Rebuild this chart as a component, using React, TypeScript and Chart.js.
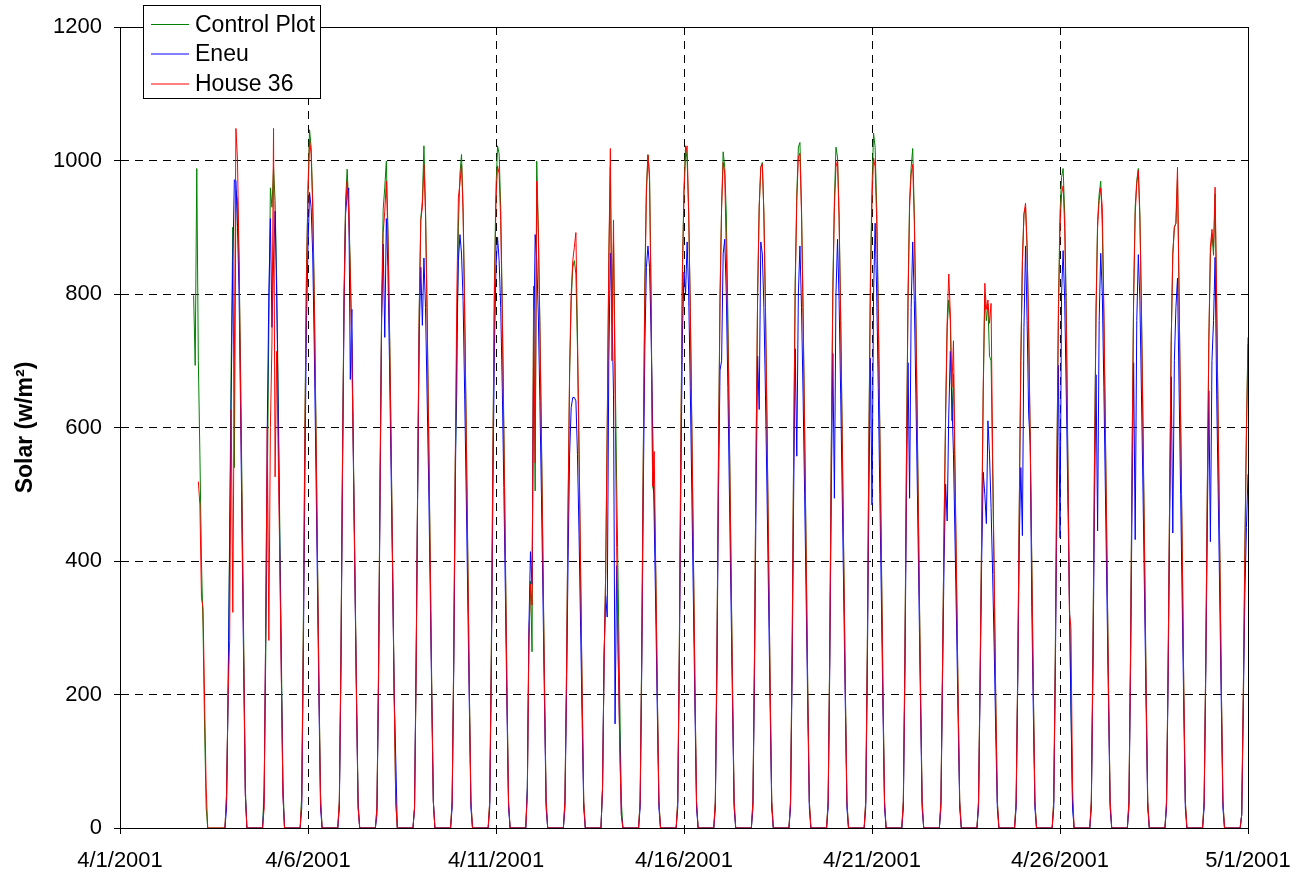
import React, { useEffect, useRef } from 'react';
import { Chart, registerables } from 'chart.js';

Chart.register(...registerables);

// ---------------- data ----------------
const SERIES_LABELS = ['Control Plot', 'Eneu', 'House 36'];
const SERIES_COLORS = ['#008000', '#0000ff', '#ff0000'];
const X_TICK_LABELS = ['4/1/2001', '4/6/2001', '4/11/2001', '4/16/2001', '4/21/2001', '4/26/2001', '5/1/2001'];
const X_TICK_STEP_DAYS = 5;
const Y_MIN = 0;
const Y_MAX = 1200;
const Y_STEP = 200;

// Day index (days after 4/1/2001 00:00) of each daily solar curve
const DAYS = [2, 3, 4, 5, 6, 7, 8, 9, 10, 11, 12, 13, 14, 15, 16, 17, 18, 19, 20, 21, 22, 23, 24, 25, 26, 27, 28, 29, 30];
// Hourly readings, hours -5 .. +9 around each day's midnight
const FIRST_HOUR = -5;
const _ = null;

const controlPlot: (number | null)[][] = [
  [_, _, _, _, 798, 693, 988, 700, 560, 400, 300, 150, 30, 0, 0],
  [0, 50, 200, 450, 700, 900, 540, 955, 940, 850, 680, 480, 270, 60, 0],
  [0, 60, 250, 500, 750, 959, 930, 990, 940, 820, 650, 450, 260, 70, 0],
  [0, 50, 300, 600, 830, 960, 1046, 1020, 940, 800, 620, 420, 220, 50, 0],
  [0, 40, 250, 550, 800, 940, 987, 930, 840, 720, 560, 380, 200, 40, 0],
  [0, 30, 230, 530, 780, 927, 960, 999, 900, 760, 590, 400, 210, 40, 0],
  [0, 30, 230, 520, 780, 913, 940, 1022, 930, 780, 600, 410, 210, 40, 0],
  [0, 40, 250, 550, 655, 900, 980, 1009, 930, 780, 600, 410, 210, 40, 0],
  [0, 40, 260, 560, 820, 960, 1022, 1010, 930, 780, 600, 410, 210, 40, 0],
  [0, 60, 280, 370, 264, 812, 505, 999, 900, 760, 590, 400, 210, 40, 0],
  [0, 40, 230, 480, 680, 790, 840, 850, 830, 720, 560, 380, 200, 40, 0],
  [0, 60, 250, 380, 600, 850, 990, 756, 880, 700, 520, 360, 190, 40, 0],
  [0, 40, 260, 560, 820, 960, 1009, 980, 800, 512, 500, 380, 200, 40, 0],
  [0, 40, 270, 580, 840, 960, 1022, 1000, 920, 780, 600, 410, 210, 40, 0],
  [0, 40, 260, 560, 800, 930, 1013, 990, 920, 770, 590, 400, 210, 40, 0],
  [0, 40, 260, 560, 800, 930, 990, 997, 920, 780, 600, 410, 210, 40, 0],
  [0, 40, 260, 570, 820, 950, 1020, 1027, 930, 780, 600, 410, 210, 40, 0],
  [0, 40, 260, 570, 810, 940, 1020, 1005, 920, 770, 590, 400, 210, 40, 0],
  [0, 40, 270, 580, 830, 960, 1041, 1020, 930, 780, 600, 410, 210, 40, 0],
  [0, 40, 260, 560, 800, 940, 990, 1018, 920, 770, 590, 400, 210, 40, 0],
  [0, 40, 240, 450, 620, 750, 791, 760, 610, 680, 520, 360, 190, 40, 0],
  [0, 40, 230, 440, 650, 800, 760, 785, 707, 700, 540, 370, 190, 40, 0],
  [0, 40, 230, 480, 700, 850, 920, 930, 870, 740, 580, 400, 210, 40, 0],
  [0, 40, 260, 550, 780, 920, 975, 988, 920, 780, 560, 350, 180, 40, 0],
  [0, 40, 260, 550, 780, 910, 950, 969, 900, 760, 590, 400, 210, 40, 0],
  [0, 40, 260, 560, 800, 930, 970, 988, 920, 780, 600, 410, 210, 40, 0],
  [0, 40, 240, 500, 730, 860, 900, 906, 975, 800, 610, 420, 210, 40, 0],
  [0, 40, 240, 500, 730, 860, 890, 858, 950, 780, 600, 410, 210, 40, 0],
  [0, 20, 200, 420, 600, 735, _, _, _, _, _, _, _, _, _],
];

const eneu: (number | null)[][] = [
  [_, _, _, _, _, _, _, _, _, _, _, _, _, _, _],
  [0, 30, 200, 420, 650, 850, 971, 970, 900, 800, 620, 420, 230, 50, 0],
  [0, 40, 295, 600, 800, 913, 750, 850, 924, 800, 620, 420, 230, 50, 0],
  [0, 30, 250, 520, 756, 870, 952, 930, 860, 720, 550, 370, 190, 30, 0],
  [0, 30, 230, 520, 780, 920, 950, 959, 672, 777, 540, 360, 180, 30, 0],
  [0, 20, 210, 500, 760, 875, 735, 913, 840, 700, 540, 380, 200, 107, 0],
  [0, 30, 250, 500, 740, 840, 753, 854, 780, 650, 520, 360, 190, 40, 0],
  [0, 30, 230, 500, 740, 850, 889, 860, 790, 650, 500, 340, 180, 30, 0],
  [0, 30, 230, 500, 720, 840, 885, 850, 780, 660, 510, 350, 180, 30, 0],
  [0, 60, 300, 414, 365, 700, 889, 850, 770, 640, 500, 340, 180, 30, 0],
  [0, 30, 200, 400, 560, 630, 645, 645, 640, 560, 440, 300, 160, 30, 0],
  [0, 60, 260, 348, 316, 700, 861, 780, 650, 156, 393, 260, 130, 20, 0],
  [0, 30, 230, 500, 720, 840, 872, 840, 740, 600, 460, 320, 170, 30, 0],
  [0, 30, 240, 520, 740, 833, 800, 878, 800, 660, 500, 340, 180, 30, 0],
  [0, 30, 230, 500, 686, 700, 860, 882, 800, 660, 500, 340, 180, 30, 0],
  [0, 30, 230, 500, 707, 627, 878, 860, 780, 650, 500, 340, 180, 30, 0],
  [0, 30, 230, 500, 718, 557, 800, 872, 780, 650, 500, 340, 180, 30, 0],
  [0, 30, 230, 500, 711, 494, 800, 882, 790, 650, 500, 340, 180, 30, 0],
  [0, 30, 230, 500, 704, 484, 800, 906, 800, 660, 500, 340, 180, 30, 0],
  [0, 30, 230, 500, 697, 494, 780, 878, 790, 650, 500, 340, 180, 30, 0],
  [0, 30, 220, 400, 515, 460, 620, 714, 641, 560, 430, 300, 160, 30, 0],
  [0, 30, 210, 400, 533, 500, 456, 610, 560, 480, 380, 270, 140, 30, 0],
  [0, 30, 210, 430, 540, 438, 750, 872, 760, 620, 575, 330, 170, 30, 0],
  [0, 30, 230, 480, 693, 435, 800, 865, 790, 650, 500, 340, 180, 30, 0],
  [0, 30, 230, 480, 679, 445, 760, 861, 800, 660, 500, 340, 180, 30, 0],
  [0, 30, 230, 490, 697, 432, 760, 859, 790, 650, 500, 340, 180, 30, 0],
  [0, 30, 220, 460, 676, 442, 700, 780, 824, 660, 500, 340, 180, 30, 0],
  [0, 30, 220, 450, 655, 429, 700, 760, 855, 650, 500, 340, 180, 30, 0],
  [0, 20, 180, 350, 450, 530, _, _, _, _, _, _, _, _, _],
];

const house36: (number | null)[][] = [
  [_, _, _, _, _, _, _, 519, 484, 345, 330, 190, 60, 0, 0],
  [0, 50, 200, 281, 627, 323, 700, 1048, 1000, 850, 650, 450, 250, 50, 0],
  [0, 30, 300, 600, 281, 600, 728, 1048, 526, 714, 560, 400, 220, 50, 0],
  [0, 40, 280, 580, 820, 950, 1030, 1010, 930, 790, 610, 410, 210, 40, 0],
  [0, 40, 250, 540, 790, 930, 969, 920, 830, 710, 550, 370, 190, 30, 0],
  [0, 30, 230, 520, 770, 892, 924, 969, 890, 750, 580, 390, 200, 40, 0],
  [0, 30, 230, 520, 770, 910, 930, 994, 920, 770, 590, 400, 200, 40, 0],
  [0, 40, 250, 550, 800, 945, 966, 994, 920, 770, 590, 400, 200, 40, 0],
  [0, 40, 250, 550, 800, 940, 992, 980, 910, 770, 590, 400, 200, 40, 0],
  [0, 50, 280, 365, 334, 777, 547, 969, 890, 750, 580, 390, 200, 40, 0],
  [0, 40, 230, 480, 690, 800, 850, 870, 892, 740, 570, 390, 200, 40, 0],
  [0, 60, 250, 380, 600, 850, 1018, 700, 911, 650, 420, 260, 120, 20, 0],
  [0, 40, 250, 550, 800, 950, 1008, 970, 780, 512, 564, 380, 200, 40, 0],
  [0, 40, 260, 570, 830, 950, 1010, 1022, 920, 780, 600, 410, 210, 40, 0],
  [0, 40, 250, 550, 790, 930, 997, 980, 861, 740, 580, 390, 200, 40, 0],
  [0, 40, 260, 560, 800, 930, 990, 995, 920, 780, 600, 410, 210, 40, 0],
  [0, 40, 260, 560, 810, 940, 1005, 1011, 920, 770, 590, 400, 200, 40, 0],
  [0, 40, 250, 560, 800, 930, 990, 1001, 910, 760, 580, 390, 200, 40, 0],
  [0, 40, 260, 570, 810, 940, 1004, 990, 910, 770, 590, 400, 200, 40, 0],
  [0, 40, 250, 550, 790, 930, 980, 994, 910, 760, 580, 390, 200, 40, 0],
  [0, 40, 240, 450, 620, 760, 830, 770, 660, 730, 540, 370, 190, 40, 0],
  [0, 40, 230, 440, 660, 816, 777, 791, 756, 786, 560, 380, 190, 40, 0],
  [0, 40, 230, 480, 700, 850, 920, 936, 870, 750, 585, 390, 200, 40, 0],
  [0, 40, 250, 540, 770, 900, 950, 962, 900, 760, 550, 323, 300, 60, 0],
  [0, 40, 250, 540, 770, 900, 940, 959, 930, 780, 590, 400, 200, 40, 0],
  [0, 40, 250, 550, 790, 920, 965, 985, 910, 770, 590, 400, 200, 40, 0],
  [0, 40, 240, 500, 730, 860, 900, 906, 990, 800, 610, 420, 210, 40, 0],
  [0, 40, 240, 500, 730, 870, 897, 870, 960, 790, 600, 410, 210, 40, 0],
  [0, 20, 200, 410, 590, 725, _, _, _, _, _, _, _, _, _],
];

const SERIES_VALUES = [controlPlot, eneu, house36];

// ---------------- helpers ----------------
function toPoints(days: number[], values: (number | null)[][]) {
  const pts: { x: number; y: number }[] = [];
  days.forEach((day, di) => {
    values[di].forEach((v, hi) => {
      if (v === null || v === undefined) return;
      pts.push({ x: day + (FIRST_HOUR + hi) / 24, y: v });
    });
  });
  return pts;
}

const FONT_FAMILY = "'Liberation Sans', Arial, sans-serif";

const framePlugin = {
  id: 'frame',
  afterDraw(chart: any) {
    const { ctx, chartArea } = chart;
    ctx.save();
    ctx.strokeStyle = '#000';
    ctx.lineWidth = 1;
    ctx.setLineDash([]);
    ctx.strokeRect(
      Math.round(chartArea.left) + 0.5,
      Math.round(chartArea.top) + 0.5,
      Math.round(chartArea.right - chartArea.left),
      Math.round(chartArea.bottom - chartArea.top)
    );
    ctx.restore();
  },
};

const boxLegendPlugin = {
  id: 'boxLegend',
  afterDraw(chart: any) {
    const { ctx } = chart;
    const left = 143.5;
    const top = 5.5;
    const width = 177;
    const height = 93;
    ctx.save();
    ctx.setLineDash([]);
    ctx.fillStyle = '#fff';
    ctx.fillRect(left, top, width, height);
    ctx.strokeStyle = '#000';
    ctx.lineWidth = 1;
    ctx.strokeRect(left, top, width, height);
    ctx.font = `23px ${FONT_FAMILY}`;
    ctx.textBaseline = 'middle';
    ctx.textAlign = 'left';
    const rowYs = [24.5, 54, 84];
    chart.data.datasets.forEach((ds: any, i: number) => {
      const y = rowYs[i];
      ctx.strokeStyle = ds.borderColor;
      ctx.lineWidth = 1;
      ctx.beginPath();
      ctx.moveTo(151, y);
      ctx.lineTo(189, y);
      ctx.stroke();
      ctx.fillStyle = '#000';
      ctx.fillText(ds.label, 195, y + 1);
    });
    ctx.restore();
  },
};

export default function App() {
  const canvasRef = useRef<HTMLCanvasElement | null>(null);

  useEffect(() => {
    const canvas = canvasRef.current;
    if (!canvas) return;
    Chart.defaults.font.family = FONT_FAMILY;
    Chart.defaults.color = '#000';

    const datasets = SERIES_LABELS.map((label, i) => ({
      label,
      data: toPoints(DAYS, SERIES_VALUES[i]),
      borderColor: SERIES_COLORS[i],
      backgroundColor: SERIES_COLORS[i],
      borderWidth: 1,
      pointRadius: 0,
      pointHoverRadius: 0,
      tension: 0,
      fill: false,
      order: 2 - i,
    }));

    const chart = new Chart(canvas, {
      type: 'line',
      data: { datasets },
      options: {
        animation: false,
        responsive: false,
        devicePixelRatio: 1,
        events: [],
        layout: { padding: { top: 27, right: 64, bottom: 0, left: 0 } },
        plugins: {
          legend: { display: false },
          tooltip: { enabled: false },
        },
        scales: {
          x: {
            type: 'linear',
            min: 0,
            max: (X_TICK_LABELS.length - 1) * X_TICK_STEP_DAYS,
            afterFit: (scale: any) => {
              scale.height = 54;
            },
            ticks: {
              stepSize: X_TICK_STEP_DAYS,
              autoSkip: false,
              maxRotation: 0,
              padding: 14,
              font: { size: 22 },
              color: '#000',
              callback: (value: any) => X_TICK_LABELS[Math.round(Number(value) / X_TICK_STEP_DAYS)] ?? '',
            },
            grid: {
              color: '#000',
              lineWidth: 1,
              tickLength: 6,
              tickColor: '#000',
              tickWidth: 1,
              tickBorderDash: [],
            },
            border: { display: true, color: '#000', width: 1, dash: [8, 6] },
          },
          y: {
            type: 'linear',
            min: Y_MIN,
            max: Y_MAX,
            afterFit: (scale: any) => {
              scale.width = 120;
            },
            ticks: {
              stepSize: Y_STEP,
              padding: 12,
              font: { size: 22 },
              color: '#000',
              callback: (value: any) => String(value),
            },
            grid: {
              color: '#000',
              lineWidth: 1,
              tickLength: 6,
              tickColor: '#000',
              tickWidth: 1,
              tickBorderDash: [],
            },
            border: { display: true, color: '#000', width: 1, dash: [8, 6] },
            title: {
              display: true,
              text: 'Solar (w/m²)',
              font: { size: 23, weight: 'bold' },
              color: '#000',
              padding: { top: 12, bottom: 0 },
            },
          },
        },
      },
      plugins: [framePlugin, boxLegendPlugin],
    } as any);

    return () => {
      chart.destroy();
    };
  }, []);

  return (
    <div style={{ position: 'fixed', left: 0, top: 0, width: 1312, height: 882, background: '#fff' }}>
      <canvas ref={canvasRef} width={1312} height={882} style={{ display: 'block', width: 1312, height: 882 }} />
    </div>
  );
}
